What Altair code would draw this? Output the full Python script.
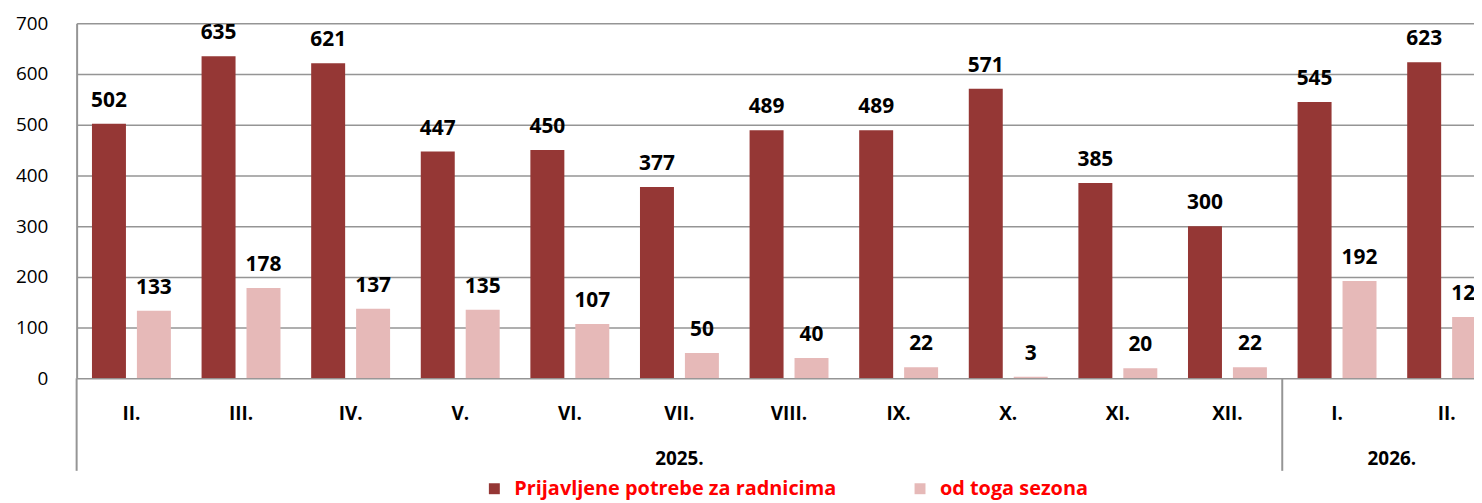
import altair as alt
import pandas as pd

months = ["II.", "III.", "IV.", "V.", "VI.", "VII.", "VIII.", "IX.", "X.", "XI.", "XII.", "I.", "II."]
years = ["2025."] * 11 + ["2026."] * 2
prijavljene = [502, 635, 621, 447, 450, 377, 489, 489, 571, 385, 300, 545, 623]
sezona = [133, 178, 137, 135, 107, 50, 40, 22, 3, 20, 22, 192, 121]
series_names = ["Prijavljene potrebe za radnicima", "od toga sezona"]
colors = ["#953735", "#E6B9B8"]

keys = [f"{i}|{m}" for i, m in enumerate(months)]
rows = []
for k, a, b in zip(keys, prijavljene, sezona):
    rows.append({"key": k, "series": series_names[0], "value": a})
    rows.append({"key": k, "series": series_names[1], "value": b})
df = pd.DataFrame(rows)

# year groups: boundaries and centres in month-index units
groups = []
start = 0
for i in range(1, len(years) + 1):
    if i == len(years) or years[i] != years[start]:
        groups.append({"year": years[start], "start": start, "center": (start + i) / 2})
        start = i
gdf = pd.DataFrame(groups)

n = len(months)
STEP = 110.2
RANGE = n * STEP
W = 1405
H = 357
FONT = "Open Sans"
GRAY = "#959595"

xband = alt.X("key:N", sort=keys, title=None,
              scale=alt.Scale(range=[0, RANGE], paddingInner=0.28, paddingOuter=0.14),
              axis=alt.Axis(labelExpr="split(datum.label, '|')[1]", labelAngle=0,
                            labelFont=FONT, labelFontWeight="bold", labelFontSize=19,
                            labelColor="#000000", labelPadding=26, ticks=False, tickSize=0,
                            domain=False, grid=False))
xoff = alt.XOffset("series:N", sort=series_names,
                   scale=alt.Scale(paddingInner=0.244, paddingOuter=0))
yq = alt.Y("value:Q", title=None,
           scale=alt.Scale(domain=[0, 700], nice=False),
           axis=alt.Axis(values=[0, 100, 200, 300, 400, 500, 600, 700], labelFont=FONT,
                         labelFontSize=19, labelColor="#000000", labelPadding=29,
                         ticks=False, tickSize=0, domainColor=GRAY, domainWidth=2,
                         gridColor=GRAY, gridWidth=1.5))

bars = alt.Chart(df).mark_bar(clip=True).encode(
    x=xband, xOffset=xoff, y=yq,
    color=alt.Color("series:N", sort=series_names,
                    scale=alt.Scale(domain=series_names, range=colors),
                    legend=alt.Legend(orient="none", legendX=410, legendY=458,
                                      direction="horizontal", title=None,
                                      symbolType="square", symbolSize=121,
                                      symbolStrokeWidth=0, symbolOpacity=1,
                                      labelFont=FONT, labelFontWeight="bold",
                                      labelFontSize=20, labelColor="#FF0000",
                                      labelOffset=10, columnPadding=74, labelLimit=600)),
)

labels = alt.Chart(df).mark_text(font=FONT, fontWeight="bold", fontSize=21, color="#000000",
                                 baseline="alphabetic", align="center", dy=-17).encode(
    x=alt.X("key:N", sort=keys),
    xOffset=xoff,
    y=alt.Y("value:Q"),
    text="value:Q",
)

lin = alt.Scale(domain=[0, n], range=[0, RANGE])
rules = alt.Chart(gdf).mark_rule(color=GRAY, strokeWidth=2).encode(
    x=alt.X("start:Q", scale=lin, axis=None),
    y=alt.value(H),
    y2=alt.value(H + 93),
)
yeartext = alt.Chart(gdf).mark_text(font=FONT, fontWeight="bold", fontSize=19,
                                    color="#000000", baseline="middle").encode(
    x=alt.X("center:Q", scale=lin, axis=None),
    y=alt.value(438),
    text="year:N",
)

chart = alt.layer(alt.layer(bars, labels), alt.layer(rules, yeartext)).resolve_scale(
    x="independent"
).properties(
    width=W, height=H,
    autosize=alt.AutoSizeParams(type="none"),
    padding={"left": 69, "top": 14, "right": 0, "bottom": 124},
).configure_view(stroke=None)

chart.save("out.html", embed_options={"renderer": "svg", "actions": False})
